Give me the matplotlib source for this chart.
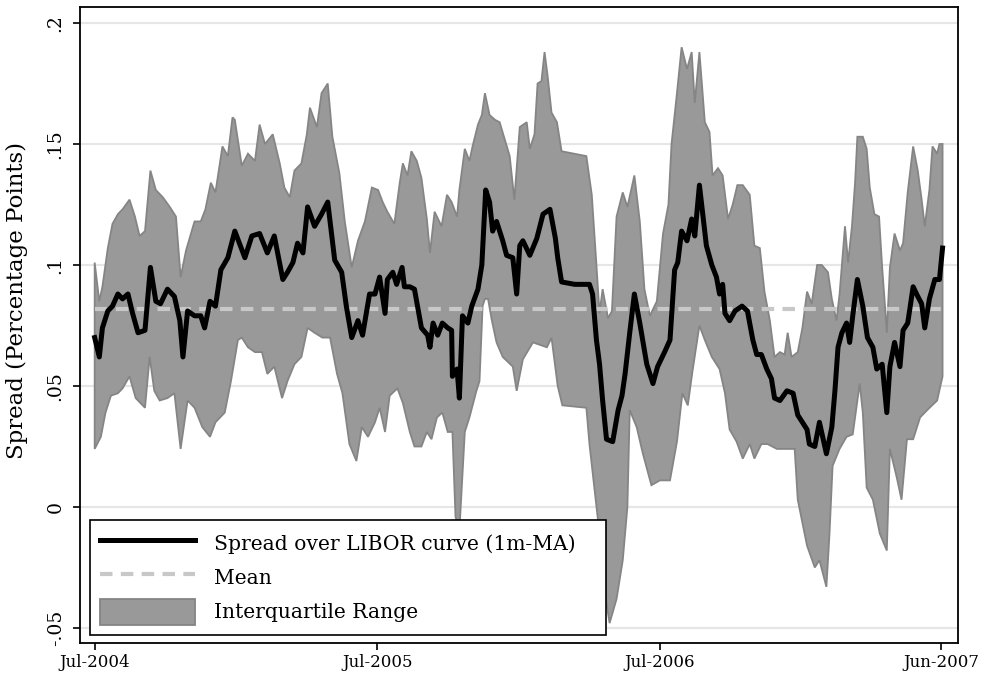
import numpy as np
import pandas as pd
import matplotlib
matplotlib.use('Agg')
from matplotlib import pyplot as plt
import matplotlib.dates as mdates
from matplotlib.lines import Line2D
from matplotlib.patches import Patch

# days since 1 Jul 2004
start = pd.Timestamp('2004-07-01')

median_days = [0, 3, 6, 10, 17, 23, 30, 36, 43, 49, 56, 65, 72, 79, 85, 94, 103, 110, 114, 120,
               129, 137, 142, 149, 156, 163, 172, 181, 194, 203, 213, 223, 232, 243, 249, 256, 262,
               269, 275, 284, 293, 301, 310, 319, 325, 332, 340, 346, 355, 362, 368, 375, 378, 385,
               390, 397, 400, 407, 413, 417, 422, 430, 433, 437, 443, 449, 456, 461, 462, 468, 471,
               475, 482, 487, 495, 500, 505, 510, 514, 519, 527, 532, 540, 545, 549, 553, 562, 571,
               579, 588, 595, 598, 603, 620, 639, 643, 648, 652, 656, 661, 669, 676, 681, 685, 691,
               697, 704, 713, 721, 727, 736, 743, 749, 753, 758, 765, 771, 775, 781, 785, 790, 797,
               803, 807, 811, 814, 820, 827, 836, 843, 850, 855, 861, 868, 874, 878, 885, 894, 902,
               908, 914, 920, 923, 930, 936, 945, 952, 956, 960, 965, 971, 975, 979, 985, 992, 998,
               1005, 1010, 1017, 1023, 1027, 1033, 1040, 1044, 1050, 1057, 1063, 1068, 1072, 1078,
               1085, 1091, 1095]
median_vals = [.070, .066, .062, .074, .081, .083, .088, .086, .088, .080, .072, .073, .099, .085,
               .084, .090, .087, .077, .062, .081, .079, .079, .074, .085, .083, .098, .103, .114,
               .103, .112, .113, .105, .112, .094, .097, .101, .109, .105, .124, .116, .121, .126,
               .102, .097, .083, .070, .077, .071, .088, .088, .095, .080, .094, .097, .092, .099,
               .091, .091, .090, .083, .074, .071, .066, .076, .071, .076, .074, .073, .054, .057,
               .045, .079, .076, .083, .090, .100, .131, .126, .114, .118, .110, .104, .103, .088,
               .108, .110, .104, .111, .121, .123, .111, .103, .093, .092, .092, .088, .069, .059,
               .044, .028, .027, .040, .046, .055, .072, .088, .076, .059, .051, .058, .064, .069,
               .098, .101, .114, .110, .119, .112, .133, .122, .108, .100, .095, .088, .092, .080,
               .077, .081, .083, .081, .069, .063, .063, .057, .053, .045, .044, .048, .047, .038,
               .035, .032, .026, .025, .035, .022, .033, .048, .066, .072, .076, .068, .079, .094,
               .083, .070, .066, .057, .059, .039, .058, .068, .058, .073, .076, .091, .087, .084,
               .074, .086, .094, .094, .107]

upper_days = [0, 6, 10, 17, 23, 30, 36, 45, 52, 58, 65, 72, 79, 88, 97, 105, 111, 118, 129, 137,
              143, 150, 156, 165, 172, 178, 181, 190, 198, 207, 213, 220, 230, 239, 245, 252, 258,
              267, 274, 278, 287, 293, 301, 307, 316, 323, 332, 340, 349, 358, 366, 372, 378, 387,
              394, 398, 404, 409, 416, 422, 429, 433, 439, 448, 455, 461, 468, 471, 478, 484, 488,
              495, 500, 504, 510, 517, 523, 536, 542, 549, 558, 562, 568, 572, 577, 581, 585, 590,
              597, 603, 635, 642, 648, 652, 656, 663, 668, 674, 682, 688, 697, 704, 710, 717, 726,
              734, 741, 745, 752, 758, 765, 771, 775, 781, 788, 794, 798, 805, 811, 818, 824, 830,
              837, 846, 852, 859, 865, 872, 878, 885, 891, 895, 900, 908, 914, 920, 926, 933, 939,
              947, 952, 958, 962, 969, 973, 978, 982, 985, 992, 997, 1001, 1007, 1013, 1017, 1020,
              1023, 1027, 1033, 1040, 1044, 1050, 1057, 1063, 1068, 1072, 1078, 1082, 1088, 1091,
              1095]
upper_vals = [.101, .085, .091, .107, .117, .121, .123, .127, .120, .112, .114, .139, .131, .128,
              .124, .120, .095, .106, .118, .118, .123, .134, .130, .149, .145, .161, .160, .141,
              .146, .143, .158, .150, .154, .142, .132, .128, .139, .142, .154, .165, .157, .171,
              .175, .153, .138, .118, .099, .110, .118, .132, .131, .126, .122, .117, .134, .142,
              .137, .147, .143, .136, .119, .105, .122, .116, .129, .126, .120, .131, .148, .143,
              .149, .158, .162, .171, .162, .160, .159, .145, .127, .157, .159, .148, .154, .175,
              .176, .188, .178, .163, .159, .147, .145, .129, .100, .080, .090, .078, .081, .120,
              .130, .124, .137, .118, .090, .079, .085, .113, .125, .150, .171, .190, .181, .188,
              .167, .188, .159, .155, .137, .140, .137, .119, .125, .133, .133, .129, .108, .107,
              .089, .077, .062, .064, .063, .072, .062, .064, .074, .089, .084, .100, .100, .097,
              .086, .077, .088, .116, .101, .116, .134, .153, .153, .148, .132, .121, .120, .099,
              .086, .072, .099, .113, .106, .109, .130, .149, .139, .127, .116, .131, .149, .146,
              .150, .150]

lower_days = [0, 8, 14, 21, 30, 36, 45, 53, 65, 71, 77, 84, 94, 103, 111, 120, 129, 139, 149, 156,
              168, 176, 185, 190, 198, 207, 216, 223, 232, 242, 249, 258, 267, 275, 284, 294, 304,
              313, 320, 329, 338, 345, 353, 362, 368, 375, 381, 391, 398, 407, 413, 422, 429, 435,
              442, 449, 456, 462, 466, 471, 478, 484, 493, 497, 501, 504, 508, 513, 519, 527, 540,
              545, 553, 566, 584, 590, 598, 604, 635, 639, 646, 652, 659, 663, 665, 674, 682, 688,
              691, 700, 708, 719, 730, 743, 752, 759, 766, 772, 781, 788, 797, 807, 814, 820, 829,
              837, 846, 852, 861, 869, 881, 904, 908, 920, 930, 936, 945, 949, 953, 962, 971, 979,
              988, 992, 997, 1005, 1014, 1023, 1027, 1036, 1042, 1049, 1057, 1066, 1075, 1088,
              1095]
lower_vals = [.024, .029, .039, .046, .047, .049, .054, .045, .041, .062, .048, .044, .045, .047,
              .024, .044, .041, .033, .029, .035, .039, .052, .069, .070, .066, .064, .064, .055,
              .058, .045, .052, .059, .062, .074, .072, .070, .070, .055, .047, .026, .019, .033,
              .029, .035, .041, .031, .046, .049, .043, .031, .025, .025, .031, .028, .037, .039,
              .031, .031, -.004, -.010, .031, .037, .048, .052, .083, .086, .086, .077, .068, .062,
              .058, .048, .061, .068, .066, .070, .050, .042, .041, .026, .006, -.011, -.035, -.044,
              -.048, -.038, -.022, .000, .040, .033, .022, .009, .011, .011, .027, .047, .042, .056,
              .075, .069, .062, .057, .047, .032, .027, .020, .026, .020, .026, .026, .024, .024,
              .003, -.016, -.025, -.022, -.033, -.011, .017, .024, .029, .030, .051, .039, .008,
              .003, -.011, -.018, .024, .012, .003, .028, .028, .037, .040, .044, .054]

mean_val = 0.082

ytick_vals = [-0.05, 0, 0.05, 0.1, 0.15, 0.2]
ytick_labels = ['-.05', '0', '.05', '.1', '.15', '.2']
xtick_dates = ['2004-07-01', '2005-07-01', '2006-07-01', '2007-06-29']
xtick_labels = ['Jul-2004', 'Jul-2005', 'Jul-2006', 'Jun-2007']


def to_num(days):
    return mdates.date2num((start + pd.to_timedelta(days, unit='D')).to_pydatetime())


plt.rcParams['font.family'] = ['DejaVu Serif']

fig = plt.figure(figsize=(9.81, 6.82), dpi=100)
ax = fig.add_axes([0.0815, 0.0572, 0.8951, 0.9325])

med_x = to_num(median_days)
up_x = to_num(upper_days)
lo_x = to_num(lower_days)

band_x = np.concatenate([up_x, lo_x[::-1]])
band_y = np.concatenate([upper_vals, lower_vals[::-1]])
ax.fill(band_x, band_y, facecolor='#999999', edgecolor='#858585', lw=1.3, zorder=2)
ax.plot([med_x[0], med_x[-1]], [mean_val, mean_val], color='#c8c8c8', lw=3.0,
        dashes=(3.0, 2.0), zorder=3)
ax.plot(med_x, median_vals, color='black', lw=3.6, solid_joinstyle='round', zorder=4)

ax.set_ylim(-0.0562, 0.2066)
ax.set_xlim(to_num([-19])[0], to_num([1115])[0])
ax.set_yticks(ytick_vals)
ax.set_yticklabels(ytick_labels, rotation=90, va='center', fontsize=13.5)
ax.set_xticks(mdates.date2num(pd.to_datetime(xtick_dates).to_pydatetime()))
ax.set_xticklabels(xtick_labels, fontsize=12)
ax.tick_params(axis='both', direction='out', length=5, width=1.2, colors='black')
ax.tick_params(axis='y', pad=6)
ax.tick_params(axis='x', pad=3)
ax.grid(axis='y', color='#e6e6e6', lw=1.5, zorder=0)
ax.set_axisbelow(True)
for s in ax.spines.values():
    s.set_linewidth(1.3)
ax.set_ylabel('Spread (Percentage Points)', fontsize=16.5)
ax.yaxis.set_label_coords(-0.059, 0.538)

handles = [Line2D([], [], color='black', lw=3.6),
           Line2D([], [], color='#c8c8c8', lw=3.0, dashes=(3.0, 2.0)),
           Patch(facecolor='#999999', edgecolor='#858585', lw=1.3)]
labels = ['Spread over LIBOR curve (1m-MA)', 'Mean', 'Interquartile Range']
leg = ax.legend(handles, labels, loc='lower left', bbox_to_anchor=(0.0114, 0.0126, 0.5877, 0.18),
                mode='expand', borderaxespad=0, fontsize=14.6, handlelength=4.7,
                handleheight=1.6, handletextpad=0.9, labelspacing=0.4, borderpad=0.5,
                fancybox=False, framealpha=1, edgecolor='black')
leg.get_frame().set_linewidth(1.2)

fig.savefig('out.png', dpi=100)
